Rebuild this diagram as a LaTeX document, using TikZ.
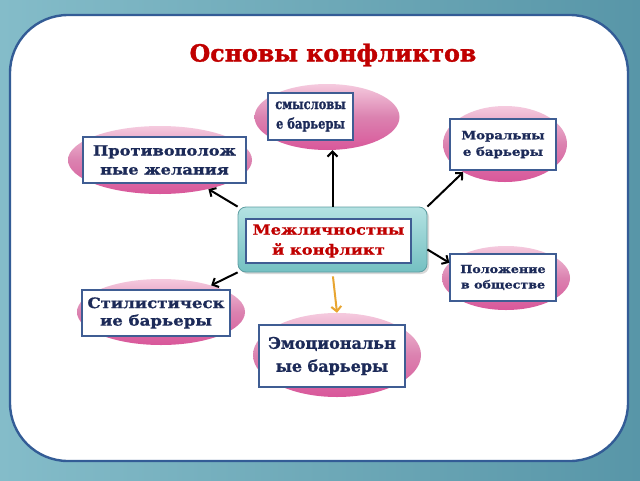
\documentclass[tikz,border=0pt]{standalone}
\usepackage{fontspec}
\setmainfont{DejaVu Serif}
\newfontfamily\fw{DejaVu Serif}[FakeStretch=1.15, FakeBold=1]
\newfontfamily\fn{DejaVu Serif}[FakeStretch=0.8, FakeBold=1]
\newfontfamily\fr{DejaVu Serif}[FakeBold=1]
\newfontfamily\ft{DejaVu Serif}[FakeBold=1.4]
\usetikzlibrary{arrows.meta,shadows,shapes.geometric}
\definecolor{bgteal}{HTML}{6EA9B8}
\definecolor{bgtealL}{HTML}{84BCC9}
\definecolor{bgtealD}{HTML}{5896A8}
\definecolor{frameblue}{HTML}{335C96}
\definecolor{boxblue}{HTML}{3F5D93}
\definecolor{navytext}{HTML}{1C2A58}
\definecolor{titlered}{HTML}{C00000}
\definecolor{pinkT}{HTML}{F5CADE}
\definecolor{pinkM}{HTML}{DB82B0}
\definecolor{pinkB}{HTML}{D9579A}
\definecolor{tealT}{HTML}{B4E2E2}
\definecolor{tealB}{HTML}{74C0C2}
\definecolor{tealE}{HTML}{5E9EA2}
\definecolor{arrowgold}{HTML}{E8A530}
\tikzset{
  pinkell/.style={ellipse, top color=pinkT, bottom color=pinkB, middle color=pinkM, draw=none, inner sep=0pt},
  wbox/.style={draw=boxblue, line width=1.8pt, fill=white, align=center, inner sep=0pt, text=navytext},
  arr/.style={line width=2pt, -{Straight Barb[length=5pt,width=10pt,line width=2pt]}},
}
\begin{document}
\begin{tikzpicture}[x=1pt,y=-1pt]
\useasboundingbox (0,0) rectangle (640,480);
\shade[left color=bgtealL, right color=bgtealD, middle color=bgteal] (0,0) rectangle (640,480);
\draw[frameblue, line width=2.4pt, fill=white, rounded corners=58pt] (10,15) rectangle (628,461);

% title
\node[font=\ft\bfseries\fontsize{23.7}{26}\selectfont, text=titlered] (title) at (333,55) {Основы конфликтов};

% ellipses
\node[pinkell, minimum width=145pt, minimum height=66pt] (e1) at (327,117) {};
\node[pinkell, minimum width=124pt, minimum height=76pt] (e2) at (505,144) {};
\node[pinkell, minimum width=184pt, minimum height=68pt] (e3) at (160,160) {};
\node[pinkell, minimum width=128pt, minimum height=64pt] (e5) at (506,278) {};
\node[pinkell, minimum width=168pt, minimum height=66pt] (e6) at (161,312) {};
\node[pinkell, minimum width=168pt, minimum height=84pt] (e7) at (337,355) {};

% boxes
\node[wbox, minimum width=85pt, minimum height=47pt, font=\fn\bfseries\fontsize{14.3}{19.5}\selectfont] (b1) at (310.5,116.5) {смысловы\\е барьеры};
\node[wbox, minimum width=106pt, minimum height=51pt, font=\fw\bfseries\fontsize{11.6}{16.5}\selectfont] (b2) at (503,144.5) {Моральны\\е барьеры};
\node[wbox, minimum width=163pt, minimum height=46pt, font=\fw\bfseries\fontsize{14.1}{19}\selectfont] (b3) at (164.5,160) {Противополож\\ные желания};
\node[wbox, minimum width=106pt, minimum height=47pt, font=\fw\bfseries\fontsize{11}{15.5}\selectfont] (b5) at (503,277.5) {Положение\\в обществе};
\node[wbox, minimum width=148pt, minimum height=46pt, font=\fw\bfseries\fontsize{14.4}{17.5}\selectfont] (b6) at (156,313) {Стилистическ\\ие барьеры};
\node[wbox, minimum width=146pt, minimum height=62pt, font=\fr\bfseries\fontsize{16}{23}\selectfont] (b7) at (332,356) {Эмоциональн\\ые барьеры};

% centre
\node[rounded corners=8pt, top color=tealT, bottom color=tealB, draw=tealE, line width=0.8pt, minimum width=189pt, minimum height=65pt, drop shadow={opacity=0.3, shadow xshift=2pt, shadow yshift=-2pt}] (c) at (332.5,239.5) {};
\node[wbox, minimum width=165pt, minimum height=44pt, text=titlered, font=\fw\bfseries\fontsize{14.2}{20}\selectfont] (ci) at (328.5,241) {Межличностны\\й конфликт};

% arrows
\draw[arr] (c.north) -- (c.north |- e1.south);
\draw[arr] (c.north east) -- (e2.214);
\draw[arr] (c.north west) -- (e3.-31);
\draw[arr] (c.-6) -- (e5.165);
\draw[arr] (c.south west) -- (e6.28);
\draw[arr, arrowgold, shorten <=4pt] (c.south) -- (e7.north);
\end{tikzpicture}
\end{document}
